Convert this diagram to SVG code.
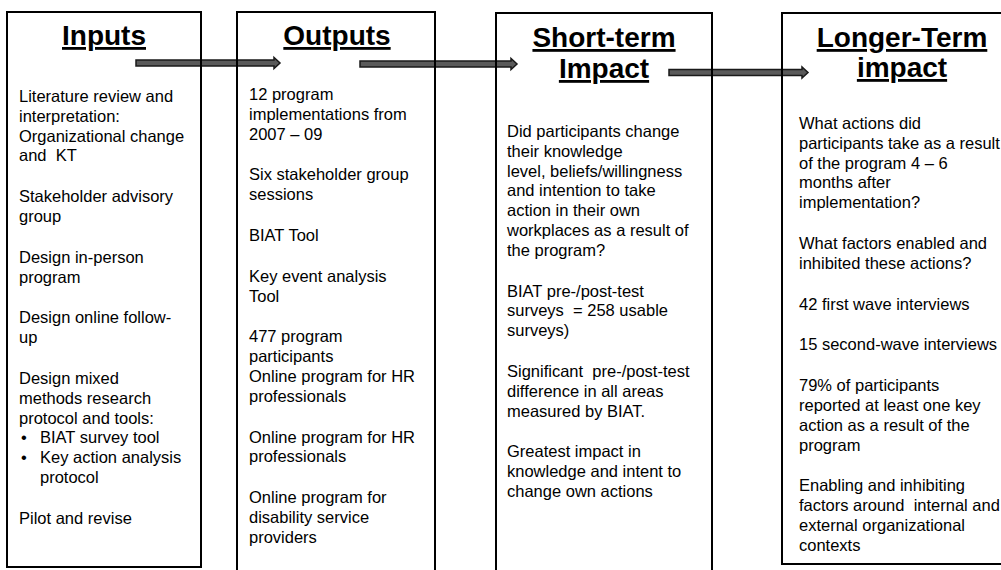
<svg xmlns="http://www.w3.org/2000/svg" width="1001" height="570" viewBox="0 0 1001 570">
<style>
.box{fill:none;stroke:#000;stroke-width:2}
.title{font-family:"Liberation Sans",Arial,sans-serif;font-size:28px;font-weight:bold;text-decoration:underline;fill:#000;text-anchor:middle}
.body{font-family:"Liberation Sans",Arial,sans-serif;font-size:16.5px;fill:#000;white-space:pre}
.arrow{fill:#5a5a5a;stroke:#1a1a1a;stroke-width:1.5;stroke-linejoin:miter}
</style>
<rect width="1001" height="570" fill="#fff"/>
<g id="connectors">
<polygon class="arrow" points="136,60 274,60 274,57.5 280,63 274,68.5 274,66 136,66"/>
<polygon class="arrow" points="360,61 511,61 511,58.5 517,64 511,69.5 511,67 360,67"/>
<polygon class="arrow" points="669,69.5 802,69.5 802,67 808,72.5 802,78 802,75.5 669,75.5"/>
</g>
<g id="inputs">
<rect class="box" x="7" y="12" width="194" height="555"/>
<text class="title" x="104" y="45">Inputs</text>
<text class="body" transform="translate(0,2)">
<tspan x="19" y="100">Literature review and</tspan>
<tspan x="19" y="119.8">interpretation:</tspan>
<tspan x="19" y="139.6">Organizational change</tspan>
<tspan x="19" y="159.4">and  KT</tspan>
<tspan x="19" y="200.2">Stakeholder advisory</tspan>
<tspan x="19" y="220">group</tspan>
<tspan x="19" y="260.8">Design in-person</tspan>
<tspan x="19" y="280.6">program</tspan>
<tspan x="19" y="321.4">Design online follow-</tspan>
<tspan x="19" y="341.2">up</tspan>
<tspan x="19" y="382">Design mixed</tspan>
<tspan x="19" y="401.8">methods research</tspan>
<tspan x="19" y="421.6">protocol and tools:</tspan>
<tspan x="21" y="441.4">•</tspan>
<tspan x="40" y="441.4">BIAT survey tool</tspan>
<tspan x="21" y="461.2">•</tspan>
<tspan x="40" y="461.2">Key action analysis</tspan>
<tspan x="40" y="481">protocol</tspan>
<tspan x="19" y="521.8">Pilot and revise</tspan>
</text>
</g>
<g id="outputs">
<rect class="box" x="237" y="12" width="198" height="570"/>
<text class="title" x="337" y="45">Outputs</text>
<text class="body" transform="translate(0,2)">
<tspan x="249" y="98">12 program</tspan>
<tspan x="249" y="117.8">implementations from</tspan>
<tspan x="249" y="137.6">2007 – 09</tspan>
<tspan x="249" y="178.4">Six stakeholder group</tspan>
<tspan x="249" y="198.2">sessions</tspan>
<tspan x="249" y="239">BIAT Tool</tspan>
<tspan x="249" y="279.8">Key event analysis</tspan>
<tspan x="249" y="299.6">Tool</tspan>
<tspan x="249" y="340.4">477 program</tspan>
<tspan x="249" y="360.2">participants</tspan>
<tspan x="249" y="380">Online program for HR</tspan>
<tspan x="249" y="399.8">professionals</tspan>
<tspan x="249" y="440.6">Online program for HR</tspan>
<tspan x="249" y="460.4">professionals</tspan>
<tspan x="249" y="501.2">Online program for</tspan>
<tspan x="249" y="521">disability service</tspan>
<tspan x="249" y="540.8">providers</tspan>
</text>
</g>
<g id="short-term">
<rect class="box" x="496" y="13" width="216" height="570"/>
<text class="title" x="604" y="47">Short-term</text>
<text class="title" x="604" y="78">Impact</text>
<text class="body" transform="translate(0,2)">
<tspan x="507" y="135">Did participants change</tspan>
<tspan x="507" y="154.8">their knowledge</tspan>
<tspan x="507" y="174.6">level, beliefs/willingness</tspan>
<tspan x="507" y="194.4">and intention to take</tspan>
<tspan x="507" y="214.2">action in their own</tspan>
<tspan x="507" y="234">workplaces as a result of</tspan>
<tspan x="507" y="253.8">the program?</tspan>
<tspan x="507" y="294.6">BIAT pre-/post-test</tspan>
<tspan x="507" y="314.4">surveys  = 258 usable</tspan>
<tspan x="507" y="334.2">surveys)</tspan>
<tspan x="507" y="375">Significant  pre-/post-test</tspan>
<tspan x="507" y="394.8">difference in all areas</tspan>
<tspan x="507" y="414.6">measured by BIAT.</tspan>
<tspan x="507" y="455.4">Greatest impact in</tspan>
<tspan x="507" y="475.2">knowledge and intent to</tspan>
<tspan x="507" y="495">change own actions</tspan>
</text>
</g>
<g id="longer-term">
<rect class="box" x="782" y="13" width="240" height="551"/>
<text class="title" x="902" y="47">Longer-Term</text>
<text class="title" x="902" y="77">impact</text>
<text class="body" transform="translate(0,1)">
<tspan x="799" y="128">What actions did</tspan>
<tspan x="799" y="147.8">participants take as a result</tspan>
<tspan x="799" y="167.6">of the program 4 – 6</tspan>
<tspan x="799" y="187.4">months after</tspan>
<tspan x="799" y="207.2">implementation?</tspan>
<tspan x="799" y="248">What factors enabled and</tspan>
<tspan x="799" y="267.8">inhibited these actions?</tspan>
<tspan x="799" y="308.6">42 first wave interviews</tspan>
<tspan x="799" y="349.4">15 second-wave interviews</tspan>
<tspan x="799" y="390.2">79% of participants</tspan>
<tspan x="799" y="410">reported at least one key</tspan>
<tspan x="799" y="429.8">action as a result of the</tspan>
<tspan x="799" y="449.6">program</tspan>
<tspan x="799" y="490.4">Enabling and inhibiting</tspan>
<tspan x="799" y="510.2">factors around  internal and</tspan>
<tspan x="799" y="530">external organizational</tspan>
<tspan x="799" y="549.8">contexts</tspan>
</text>
</g>
</svg>
